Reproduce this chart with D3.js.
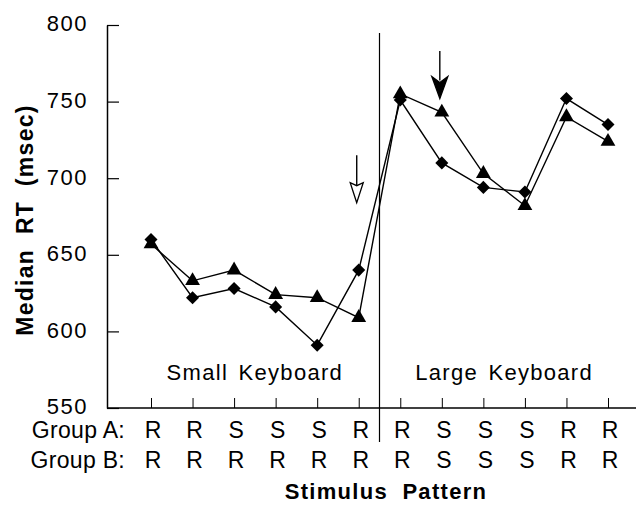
<!DOCTYPE html>
<html lang="en">
<head>
  <meta charset="UTF-8">
  <title>Median RT by Stimulus Pattern</title>
  <script src="https://d3js.org/d3.v7.min.js"></script>
  <style>
    body {
      margin: 0;
      padding: 0;
      background: #fff;
    }
    svg text {
      font-family: "Liberation Sans", Arial, sans-serif;
      fill: #000;
    }
  </style>
</head>
<body>
  <div id="chart"></div>

  <script>
    // data
    const groupA = ["R", "R", "S", "S", "S", "R", "R", "S", "S", "S", "R", "R"];
    const groupB = ["R", "R", "R", "R", "R", "R", "R", "S", "S", "S", "R", "R"];
    const triangleSeries = [657, 633, 640, 624, 622, 609, 755, 743, 703, 682, 740, 724];
    const diamondSeries = [660, 622, 628, 616, 591, 640, 751, 710, 694, 691, 752, 735];
    const yTicks = [550, 600, 650, 700, 750, 800];
    const keyboards = [
      { name: "Small Keyboard", from: 0, to: 5 },
      { name: "Large Keyboard", from: 6, to: 11 }
    ];
    // arrows: index, start value, tip value, filled
    const arrows = [
      { index: 5, top: 715, tip: 684, filled: false },
      { index: 7, top: 783, tip: 752, filled: true }
    ];

    const width = 642;
    const height = 505;
    const mLeft = 107, mRight = 636, mTop = 25, mBottom = 408;

    const idx = d3.range(groupA.length);
    const x = d3.scalePoint().domain(idx).range([151, 608]);
    const y = d3.scaleLinear().domain([550, 800]).range([mBottom, mTop]);

    const svg = d3.select("#chart")
      .append("svg")
      .attr("width", width)
      .attr("height", height);

    // y axis
    const yAxis = svg.append("g")
      .attr("transform", `translate(${mLeft},0)`)
      .call(d3.axisLeft(y).tickValues(yTicks).tickSize(-12).tickPadding(19).tickSizeOuter(0));
    yAxis.select(".domain").attr("stroke", "#000").attr("stroke-width", 1.5);
    yAxis.selectAll(".tick line").attr("stroke", "#000").attr("stroke-width", 1.2);
    yAxis.selectAll(".tick text")
      .style("font-size", "22px")
      .style("letter-spacing", "1.5px")
      .attr("dy", "0.27em");

    // x axis (ticks only, upward)
    const xAxis = svg.append("g")
      .attr("transform", `translate(0,${mBottom})`)
      .call(d3.axisBottom(x).tickSize(-10).tickFormat(""));
    xAxis.select(".domain").remove();
    xAxis.selectAll(".tick line").attr("stroke", "#000").attr("stroke-width", 1);
    svg.append("line")
      .attr("x1", mLeft).attr("x2", mRight)
      .attr("y1", mBottom).attr("y2", mBottom)
      .attr("stroke", "#000").attr("stroke-width", 1.5);

    // divider between keyboards
    const divX = (x(5) + x(6)) / 2;
    svg.append("line")
      .attr("x1", divX).attr("x2", divX)
      .attr("y1", mTop + 8).attr("y2", mBottom + 34)
      .attr("stroke", "#000").attr("stroke-width", 1.2);

    // keyboard labels
    svg.selectAll(".kb")
      .data(keyboards)
      .enter()
      .append("text")
      .attr("class", "kb")
      .attr("x", d => (x(d.from) + x(d.to)) / 2)
      .attr("y", y(570) + 3)
      .attr("text-anchor", "middle")
      .style("font-size", "22px")
      .style("letter-spacing", "1.3px")
      .style("word-spacing", "3px")
      .text(d => d.name);

    // group rows
    const rows = [
      { label: "Group A:", values: groupA, y: 438 },
      { label: "Group B:", values: groupB, y: 468 }
    ];
    rows.forEach(r => {
      svg.append("text")
        .attr("x", 125)
        .attr("y", r.y)
        .attr("text-anchor", "end")
        .style("font-size", "23px")
        .style("letter-spacing", "0.3px")
        .text(r.label);
      svg.selectAll(null)
        .data(r.values)
        .enter()
        .append("text")
        .attr("x", (d, i) => x(i) + 2)
        .attr("y", r.y)
        .attr("text-anchor", "middle")
        .style("font-size", "23px")
        .text(d => d);
    });

    // axis titles
    svg.append("text")
      .attr("x", 386)
      .attr("y", 499)
      .attr("text-anchor", "middle")
      .style("font-size", "22px")
      .style("font-weight", "bold")
      .style("letter-spacing", "1.3px")
      .style("word-spacing", "7px")
      .text("Stimulus Pattern");

    svg.append("text")
      .attr("transform", "translate(33,220) rotate(-90)")
      .attr("text-anchor", "middle")
      .style("font-size", "23px")
      .style("font-weight", "bold")
      .style("letter-spacing", "1.3px")
      .style("word-spacing", "7px")
      .text("Median RT (msec)");

    // series lines
    const line = d3.line().x((d, i) => x(i)).y(d => y(d));
    [triangleSeries, diamondSeries].forEach(s => {
      svg.append("path")
        .datum(s)
        .attr("d", line)
        .attr("fill", "none")
        .attr("stroke", "#000")
        .attr("stroke-width", 1.4);
    });

    // markers
    svg.selectAll(".tri")
      .data(triangleSeries)
      .enter()
      .append("path")
      .attr("class", "tri")
      .attr("transform", (d, i) => `translate(${x(i)},${y(d)})`)
      .attr("d", d3.symbol().type(d3.symbolTriangle).size(95))
      .attr("fill", "#000");

    svg.selectAll(".dia")
      .data(diamondSeries)
      .enter()
      .append("path")
      .attr("class", "dia")
      .attr("transform", (d, i) => `translate(${x(i)},${y(d)}) rotate(45)`)
      .attr("d", d3.symbol().type(d3.symbolSquare).size(85))
      .attr("fill", "#000");

    // arrows
    arrows.forEach(a => {
      const ax = x(a.index) - 2;
      const yTop = y(a.top), yTip = y(a.tip);
      const headLen = a.filled ? 22 : 20;
      const halfW = a.filled ? 8 : 6.5;
      svg.append("line")
        .attr("x1", ax).attr("x2", ax)
        .attr("y1", yTop).attr("y2", yTip - headLen + 4)
        .attr("stroke", "#000").attr("stroke-width", 1.4);
      const notch = a.filled ? 6 : 3;
      const head = d3.path();
      head.moveTo(ax, yTip);
      head.lineTo(ax - halfW, yTip - headLen);
      head.lineTo(ax, yTip - headLen + notch);
      head.lineTo(ax + halfW, yTip - headLen);
      head.closePath();
      svg.append("path")
        .attr("d", head.toString())
        .attr("fill", a.filled ? "#000" : "#fff")
        .attr("stroke", "#000")
        .attr("stroke-width", 1.3);
    });
  </script>
</body>
</html>
